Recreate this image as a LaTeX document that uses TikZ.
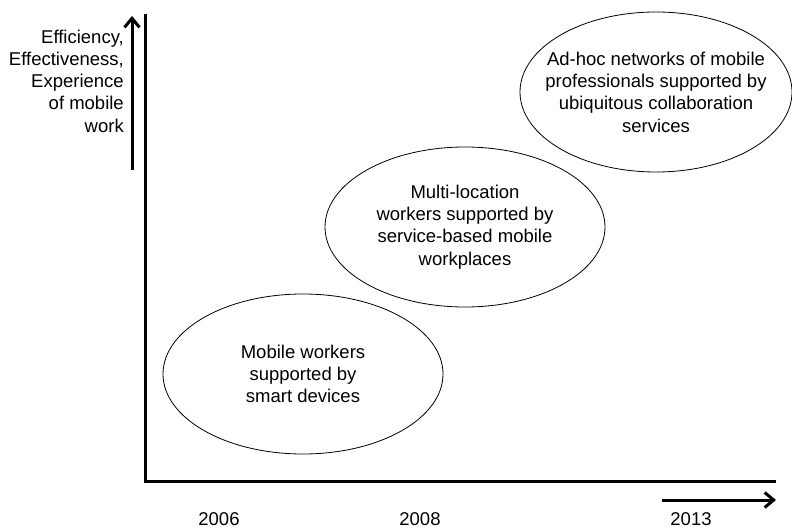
\documentclass[tikz,border=0pt]{standalone}
\usepackage{fontspec}
\setmainfont{Liberation Sans}
\usetikzlibrary{arrows.meta}

\tikzset{
    axis line/.style={line width=3pt},
    trend arrow/.style={
        line width=3pt,
        -{Straight Barb[length=9pt,width=15pt]}
    },
    stage text/.style={
        align=center,inner sep=0pt,
        font=\fontsize{18.5pt}{22.3pt}\selectfont
    },
    stage ring/.style={draw,line width=.8pt}
}

\begin{document}
\begin{tikzpicture}[x=1pt,y=-1pt]
        \useasboundingbox (0,0) rectangle (792,529);
        \coordinate (origin) at (145,481);
        \coordinate (y top) at (145,14);
        \coordinate (x end) at (776,481);
        \draw[axis line] (y top) -- (origin) -- (x end);
        % small arrows beside the axes
        \coordinate (up from) at (132,170);
        \coordinate (up to) at (132,16);
        \coordinate (right from) at (662,500);
        \coordinate (right to) at (776,500);
        \draw[trend arrow] (up from) -- (up to);
        \draw[trend arrow] (right from) -- (right to);
        \node[stage text,align=right,anchor=east] (quality) at (124,81)
            {Efficiency,\\Effectiveness,\\Experience\\of mobile\\work};
        \foreach \x/\yr in {219/2006,420/2008,691/2013}
            \node[stage text] (year\yr) at (\x,519) {\yr};
        % the three stages
        \node[stage text] (devices) at (303,374)
            {Mobile workers\\supported by\\smart devices};
        \node[stage text] (workplaces) at (465,227)
            {Multi-location\\workers supported by\\service-based mobile\\workplaces};
        \node[stage text] (networks) at (656,92)
            {Ad-hoc networks of mobile\\professionals supported by\\ubiquitous collaboration\\services};
        \foreach \name/\rx in {devices/140,workplaces/140,networks/136}
            \draw[stage ring] (\name.center) ellipse [x radius=\rx pt,y radius=80pt];
    \end{tikzpicture}
\end{document}
